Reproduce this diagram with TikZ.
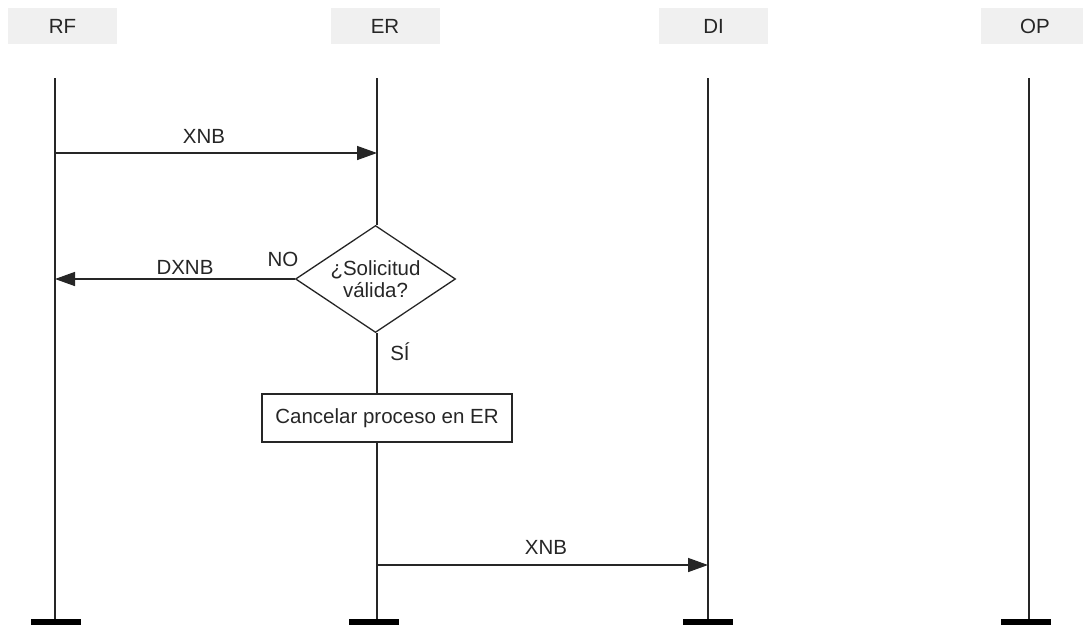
\documentclass[tikz,border=0pt]{standalone}
\usepackage{fontspec}
\setmainfont{Liberation Sans}
\usetikzlibrary{shapes.geometric,arrows.meta}
\begin{document}
\begin{tikzpicture}[x=1pt,y=-1pt,
  every node/.style={font=\fontsize{20.5}{22}\selectfont, text=black!85},
  hdr/.style={fill=black!6, minimum width=109pt, minimum height=36pt, inner sep=0pt},
  life/.style={line width=1.5pt, draw=black!85},
  msg/.style={line width=1.5pt, draw=black!85, -{Triangle[length=20pt,width=14pt]}},
  endbar/.style={fill=black, minimum width=50pt, minimum height=6pt, inner sep=0pt},
  lbl/.style={inner sep=0pt},
  decision/.style={draw=black!85, line width=1.3pt, diamond, aspect=1.5, inner sep=-1.5pt,
                   minimum width=160pt, minimum height=107pt, align=center},
  action/.style={draw=black!85, line width=1.3pt, minimum width=250pt, minimum height=48pt, inner sep=0pt}]
\useasboundingbox (0,0) rectangle (1083,625);

% headers
\node[hdr] (hRF) at (62.5,26) {RF};
\node[hdr] (hER) at (385,26) {ER};
\node[hdr] (hDI) at (713.5,26) {DI};
\node[hdr] (hOP) at (1035,26) {OP};

% lifeline tops
\coordinate (tRF) at (55,78);
\coordinate (tER) at (377,78);
\coordinate (tDI) at (708,78);
\coordinate (tOP) at (1029,78);

% end bars
\node[endbar] (bRF) at (56,622) {};
\node[endbar] (bER) at (374,622) {};
\node[endbar] (bDI) at (707.5,622) {};
\node[endbar] (bOP) at (1025.5,622) {};

% decision and action
\node[decision] (dec) at (375.5,279) {¿Solicitud\\válida?};
\node[action] (act) at (387,418) {Cancelar proceso en ER};

% lifelines
\draw[life] (tRF) -- (tRF |- bRF.north);
\draw[life] (tER) -- (tER |- dec.north);
\draw[life] (tER |- dec.south) -- (tER |- act.north);
\draw[life] (tER |- act.south) -- (tER |- bER.north);
\draw[life] (tDI) -- (tDI |- bDI.north);
\draw[life] (tOP) -- (tOP |- bOP.north);

% messages
\coordinate (m1s) at (55,153);
\coordinate (m1e) at (377,153);
\draw[msg] (m1s) -- (m1e);
\node[lbl] (l1) at (204,136) {XNB};

\coordinate (m2e) at (55,279);
\draw[msg] (dec.west) -- (m2e);
\node[lbl] (l2) at (185,267) {DXNB};
\node[lbl] (lno) at (283,259) {NO};
\node[lbl] (lsi) at (400,352) {SÍ};

\coordinate (m3s) at (377,565);
\coordinate (m3e) at (708,565);
\draw[msg] (m3s) -- (m3e);
\node[lbl] (l3) at (546,547) {XNB};
\end{tikzpicture}
\end{document}
